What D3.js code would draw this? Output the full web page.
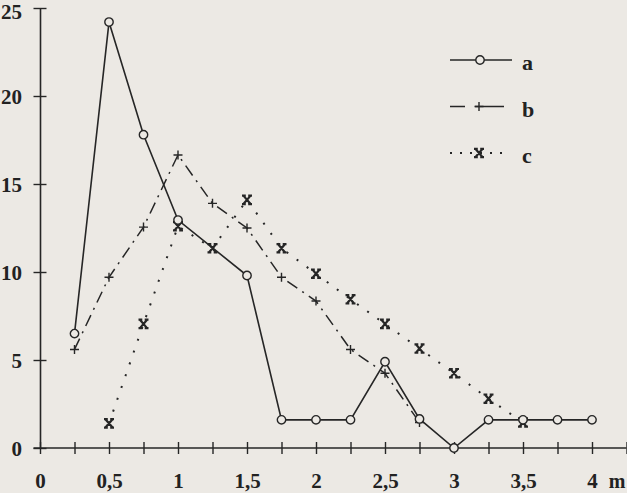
<!DOCTYPE html>
<html>
<head>
<meta charset="utf-8">
<script src="https://cdn.jsdelivr.net/npm/d3@7"></script>
<style>
  html, body { margin: 0; padding: 0; background: #ece9e4; }
  svg { display: block; }
  text { font-family: 'Liberation Serif', 'Times New Roman', serif; font-weight: bold; fill: #222; }
</style>
</head>
<body>
<div id="chart"></div>
<script>
(function(d3) {
  'use strict';

  // values, x in metres
  var xValues = [0.25, 0.5, 0.75, 1, 1.25, 1.5, 1.75, 2, 2.25, 2.5, 2.75, 3, 3.25, 3.5, 3.75, 4];
  var seriesA = [6.5, 24.2, 17.8, 12.95, null, 9.8, 1.6, 1.6, 1.6, 4.9, 1.65, 0, 1.6, 1.6, 1.6, 1.6];
  var seriesB = [5.6, 9.7, 12.55, 16.65, 13.9, 12.5, 9.7, 8.35, 5.6, 4.25, 1.45, null, null, null, null, null];
  var seriesC = [null, 1.4, 7.05, 12.6, 11.35, 14.1, 11.35, 9.9, 8.45, 7.05, 5.65, 4.25, 2.8, 1.45, null, null];
  var seriesNames = ['a', 'b', 'c'];
  var yTicks = [0, 5, 10, 15, 20, 25];
  var xLabelTicks = [0, 0.5, 1, 1.5, 2, 2.5, 3, 3.5, 4];

  var ink = '#262626';
  var paper = '#ece9e4';
  var width = 627, height = 493;

  var svg = d3.select('#chart')
    .append('svg')
    .attr('width', width)
    .attr('height', height);

  svg.append('rect')
    .attr('width', width)
    .attr('height', height)
    .attr('fill', paper);

  var x = d3.scaleLinear().domain([0, 4]).range([40, 592]);
  var y = d3.scaleLinear().domain([0, 25]).range([448, 8]);

  var comma = function(d) { return String(d).replace('.', ','); };

  // y axis, ticks cross the line
  var yAxis = svg.append('g')
    .attr('transform', 'translate(' + x(0) + ',0)')
    .call(d3.axisLeft(y).tickValues(yTicks).tickSize(6.5).tickSizeOuter(0).tickPadding(11.5).tickFormat(comma));

  // x axis: a tick every 0.25, labels on the halves
  var xTicks = d3.range(0, 17.5).map(function(i) { return i * 0.25; });
  var xAxis = svg.append('g')
    .attr('transform', 'translate(0,' + y(0) + ')')
    .call(d3.axisBottom(x).tickValues(xTicks).tickSize(6).tickSizeOuter(0)
      .tickFormat(function(d) { return xLabelTicks.indexOf(d) >= 0 ? comma(d) : ''; }));

  [yAxis, xAxis].forEach(function(g) {
    g.select('.domain').attr('stroke', ink).attr('stroke-width', 1.6);
    g.selectAll('.tick line').attr('stroke', ink).attr('stroke-width', 1.4);
    g.selectAll('text').attr('font-size', 21).attr('fill', '#1e1e1e')
      .attr('font-family', "'Liberation Serif', serif").attr('font-weight', 'bold');
  });

  yAxis.selectAll('.tick line').attr('x1', 6.5);
  yAxis.selectAll('.tick text').attr('dy', function(d) { return d === 25 ? '0.5em' : '0.34em'; });
  xAxis.selectAll('.tick line').attr('y1', -6);
  xAxis.selectAll('.tick text').attr('y', 40).attr('dy', null);

  // a small stub so the base line reaches the y ticks
  xAxis.select('.domain').attr('d', 'M' + (x(0) - 6.5) + ',0H' + (width - 0.5));

  svg.append('text')
    .attr('x', 617)
    .attr('y', 488)
    .attr('text-anchor', 'middle')
    .attr('font-size', 20)
    .text('m');

  var series = [
    { name: seriesNames[0], values: seriesA, dash: null, width: 1.6, marker: 'circle' },
    { name: seriesNames[1], values: seriesB, dash: '12,6,2,6', width: 1.5, marker: 'plus' },
    { name: seriesNames[2], values: seriesC, dash: '2,10.5', width: 2, marker: 'star' }
  ];

  var points = function(s) {
    return xValues.map(function(xv, i) { return { x: xv, y: s.values[i] }; })
      .filter(function(p) { return p.y !== null; });
  };

  var line = d3.line()
    .x(function(d) { return x(d.x); })
    .y(function(d) { return y(d.y); });

  var markerPath = {
    plus: 'M-4.5,0H4.5M0,-4.5V4.5',
    star: 'M-3.6,-4.2L3.6,4.2M3.6,-4.2L-3.6,4.2M-5,-4.2H-1.2M1.2,-4.2H5M-5,4.2H-1.2M1.2,4.2H5'
  };

  function drawMarker(g, s) {
    if (s.marker === 'circle') {
      g.append('circle').attr('r', 4.2)
        .attr('fill', paper).attr('stroke', ink).attr('stroke-width', 1.4);
    } else {
      g.append('path').attr('d', markerPath[s.marker])
        .attr('fill', 'none').attr('stroke', ink)
        .attr('stroke-width', s.marker === 'star' ? 2.2 : 1.4);
    }
  }

  // draw c first so the solid line sits on top
  series.slice().reverse().forEach(function(s) {
    svg.append('path')
      .datum(points(s))
      .attr('d', line)
      .attr('fill', 'none')
      .attr('stroke', ink)
      .attr('stroke-width', s.width)
      .attr('stroke-dasharray', s.dash);
  });

  series.slice().reverse().forEach(function(s) {
    svg.selectAll(null)
      .data(points(s))
      .enter()
      .append('g')
      .attr('transform', function(d) { return 'translate(' + x(d.x) + ',' + y(d.y) + ')'; })
      .each(function() { drawMarker(d3.select(this), s); });
  });

  // legend
  var legend = svg.selectAll('.legend')
    .data(series)
    .enter()
    .append('g')
    .attr('class', 'legend')
    .attr('transform', function(d, i) { return 'translate(450,' + (60 + i * 46.5) + ')'; });

  legend.append('line')
    .attr('x1', 0)
    .attr('x2', function(d) { return d.marker === 'circle' ? 62 : 54; })
    .attr('stroke', ink)
    .attr('stroke-width', function(d) { return d.width; })
    .attr('stroke-dasharray', function(d) {
      if (d.marker === 'plus') return '15,10,29';
      if (d.marker === 'star') return '2,8';
      return null;
    });

  legend.append('g')
    .attr('transform', function(d) { return 'translate(' + (d.marker === 'circle' ? 30 : 29) + ',0)'; })
    .each(function(d) { drawMarker(d3.select(this), d); });

  legend.append('text')
    .attr('x', 72)
    .attr('y', 10)
    .attr('font-size', 22)
    .text(function(d) { return d.name; });
}(d3));
</script>
</body>
</html>
